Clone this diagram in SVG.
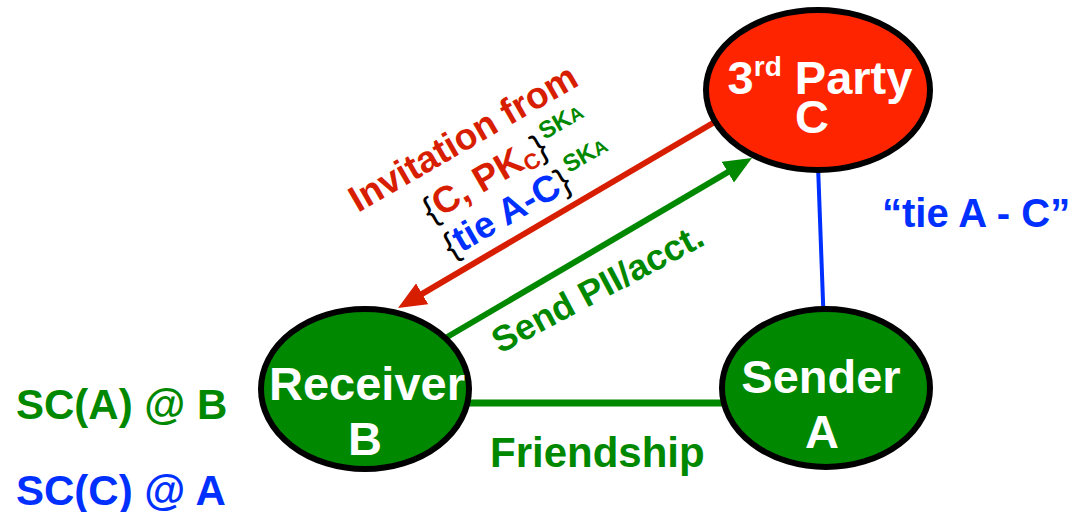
<svg xmlns="http://www.w3.org/2000/svg" width="1080" height="512" viewBox="0 0 1080 512">
  <style>
    text { font-family: "Liberation Sans", Arial, sans-serif; font-weight: bold; }
    .node { stroke: #000; stroke-width: 6; }
    .green-node { fill: #008800; }
    .red-node { fill: #ff2400; }
    .node-label { fill: #fff; font-size: 47px; text-anchor: middle; }
    .green { fill: #008800; }
    .red { fill: #d81e00; }
    .blue { fill: #0030ff; }
    .br { fill: #000; font-weight: normal; font-size: 35px; }
    .sup { font-size: 24px; }
    .sub-a { font-size: 19px; }
  </style>
  <defs>
    <marker id="head-red" viewBox="0 0 28 24" refX="4" refY="12" markerWidth="28" markerHeight="24" markerUnits="userSpaceOnUse" orient="auto">
      <path d="M0,0 L28,12 L0,24 z" fill="#d81e00"/>
    </marker>
    <marker id="head-green" viewBox="0 0 28 24" refX="4" refY="12" markerWidth="28" markerHeight="24" markerUnits="userSpaceOnUse" orient="auto">
      <path d="M0,0 L28,12 L0,24 z" fill="#008800"/>
    </marker>
  </defs>

  <!-- connectors -->
  <g id="connectors" fill="none">
    <line x1="730" y1="113" x2="418.7" y2="295.8" stroke="#d81e00" stroke-width="6" marker-end="url(#head-red)"/>
    <line x1="425" y1="350" x2="731.3" y2="170.2" stroke="#008800" stroke-width="6" marker-end="url(#head-green)"/>
    <line x1="818" y1="165" x2="823.5" y2="315" stroke="#0030ff" stroke-width="4"/>
    <line x1="465" y1="403" x2="728" y2="403" stroke="#008800" stroke-width="7"/>
  </g>

  <!-- node C -->
  <g id="node-c">
    <ellipse class="node red-node" cx="818" cy="90" rx="112" ry="80"/>
    <text class="node-label" x="820" y="94">3<tspan font-size="28" dy="-18">rd</tspan><tspan dy="18"> Party</tspan></text>
    <text class="node-label" x="812" y="133">C</text>
  </g>

  <!-- node B -->
  <g id="node-b">
    <ellipse class="node green-node" cx="365" cy="389" rx="104" ry="80"/>
    <text class="node-label" x="367" y="400">Receiver</text>
    <text class="node-label" x="365" y="455">B</text>
  </g>

  <!-- node A -->
  <g id="node-a">
    <ellipse class="node green-node" cx="826" cy="388" rx="104" ry="79"/>
    <text class="node-label" x="821" y="393">Sender</text>
    <text class="node-label" x="822" y="448">A</text>
  </g>

  <!-- message along the red arrow -->
  <g id="label-invitation" transform="translate(358,213) rotate(-30)">
    <text class="red" x="0" y="0" font-size="37">Invitation from</text>
    <text x="58" y="45" font-size="37"><tspan class="br">{</tspan><tspan class="red">C, PK</tspan><tspan class="red" font-size="22" dy="5">C</tspan><tspan class="br" dy="-5">}</tspan><tspan class="green sup" dx="2" dy="-15">SK</tspan><tspan class="green sub-a">A</tspan></text>
    <text x="58" y="86" font-size="37"><tspan class="br">{</tspan><tspan class="blue">tie A-C</tspan><tspan class="br">}</tspan><tspan class="green sup" dx="3" dy="-15">SK</tspan><tspan class="green sub-a">A</tspan></text>
  </g>

  <!-- message along the green arrow -->
  <text id="label-send" class="green" font-size="36" transform="translate(500,354) rotate(-28)">Send PII/acct.</text>

  <!-- edge labels -->
  <text id="label-friendship" class="green" x="490" y="467" font-size="42">Friendship</text>
  <text id="label-tie" class="blue" x="882" y="227" font-size="40">“tie A - C”</text>

  <!-- side notes -->
  <text id="note-sc-a" class="green" x="16" y="419" font-size="42">SC(A) @ B</text>
  <text id="note-sc-c" class="blue" x="16" y="505" font-size="42">SC(C) @ A</text>
</svg>
